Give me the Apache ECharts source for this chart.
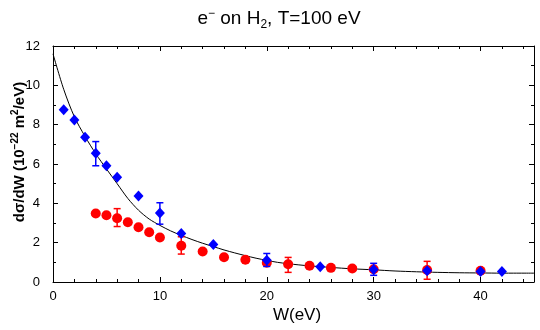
<!DOCTYPE html>
<html><head><meta charset="utf-8">
<script src="https://cdn.jsdelivr.net/npm/echarts@6/dist/echarts.min.js"></script>
<style>html,body{margin:0;padding:0;background:#fff}#c{width:540px;height:330px}</style>
</head><body><div id="c"></div>
<script>
// ---- data ----
const blueW = [1, 2, 3, 4, 5, 6, 8, 10, 12, 15, 20, 25, 30, 35, 40, 42];
const blueV = [8.76, 8.24, 7.36, 6.55, 5.91, 5.32, 4.37, 3.51, 2.46, 1.91, 1.11, 0.78, 0.64, 0.57, 0.54, 0.54];
const redW = [4, 5, 6, 7, 8, 9, 10, 12, 14, 16, 18, 20, 22, 24, 26, 28, 30, 35, 40];
const redV = [3.48, 3.39, 3.24, 3.04, 2.78, 2.53, 2.26, 1.84, 1.55, 1.26, 1.13, 0.98, 0.90, 0.83, 0.72, 0.69, 0.65, 0.61, 0.57];
const blueErrW = [4, 10, 20, 30];
const blueErrLo = [5.91, 2.94, 0.79, 0.34];
const blueErrHi = [7.14, 4.03, 1.45, 0.95];
const redErrW = [6, 12, 22, 35];
const redErrLo = [2.82, 1.42, 0.49, 0.14];
const redErrHi = [3.73, 2.30, 1.25, 1.05];
const curveW = [0, 1, 2, 3, 4, 5, 6, 7, 8, 9, 10, 11, 12, 13, 14, 15, 16, 17, 18, 19, 20, 21, 22, 23, 24, 25, 26, 28, 30, 32, 34, 36, 38, 40, 42, 45];
const curveV = [11.6, 9.8, 8.4, 7.4, 6.52, 5.75, 5.0, 4.25, 3.65, 3.2, 2.88, 2.6, 2.37, 2.16, 1.97, 1.8, 1.63, 1.48, 1.34, 1.21, 1.1, 1.0, 0.93, 0.87, 0.82, 0.78, 0.74, 0.67, 0.62, 0.56, 0.52, 0.49, 0.47, 0.46, 0.45, 0.45];
const xTickLabels = [0, 10, 20, 30, 40];
const yTickLabels = [0, 2, 4, 6, 8, 10, 12];
const titleText = '{n|e}{sup|−}{n| on H}{sub|2}{n|, T=100 eV}';
const yNameText = '{n|dσ/dW (10}{sup|−22}{n| m}{sup|2}{n|/eV)}';
const xNameText = 'W(eV)';

const FONT = 'Liberation Sans, Arial, Helvetica, sans-serif';
const chart = echarts.init(document.getElementById('c'), null, {renderer: 'canvas'});

function axisCommon(pos, showLabel, isX) {
  return {
    type: 'value', position: pos,
    min: 0, max: isX ? 45 : 12, interval: isX ? 10 : 2,
    axisLine: {show: true, onZero: false, lineStyle: {color: '#000', width: 1}},
    axisTick: {show: true, inside: true, length: 5, lineStyle: {color: '#000', width: 1}},
    minorTick: {show: true, splitNumber: isX ? 5 : 2, length: 3, lineStyle: {color: '#000', width: 1}},
    splitLine: {show: false},
    axisLabel: {
      show: showLabel, color: '#000', fontSize: 13, fontFamily: FONT,
      margin: isX ? 8 : 13,
      formatter: function (v) {
        const arr = isX ? xTickLabels : yTickLabels;
        return arr.indexOf(v) >= 0 ? String(v) : '';
      }
    }
  };
}

function errRender(color) {
  return function (params, api) {
    const x = api.value(0);
    const lo = api.coord([x, api.value(1)]);
    const hi = api.coord([x, api.value(2)]);
    const hw = 3.5;
    const st = {stroke: color, lineWidth: 1.5};
    return {type: 'group', children: [
      {type: 'line', shape: {x1: lo[0], y1: lo[1], x2: hi[0], y2: hi[1]}, style: st},
      {type: 'line', shape: {x1: hi[0] - hw, y1: hi[1], x2: hi[0] + hw, y2: hi[1]}, style: st},
      {type: 'line', shape: {x1: lo[0] - hw, y1: lo[1], x2: lo[0] + hw, y2: lo[1]}, style: st}
    ]};
  };
}

chart.setOption({
  animation: false,
  backgroundColor: '#fff',
  grid: {left: 53, right: 6, top: 46, bottom: 48, containLabel: false},
  xAxis: [axisCommon('bottom', true, true), axisCommon('top', false, true)],
  yAxis: [axisCommon('left', true, false), axisCommon('right', false, false)],
  graphic: [
    {type: 'text', x: 279, y: 19, z: 10, style: {
      text: titleText, align: 'center', verticalAlign: 'middle', fill: '#000',
      rich: {
        n: {fontSize: 19, fontFamily: FONT, lineHeight: 23, fill: '#000'},
        sup: {fontSize: 12, fontFamily: FONT, verticalAlign: 'top', lineHeight: 12, fill: '#000'},
        sub: {fontSize: 12, fontFamily: FONT, verticalAlign: 'bottom', lineHeight: 10, fill: '#000'}
      }
    }},
    {type: 'text', x: 20, y: 152, rotation: Math.PI / 2, z: 10, style: {
      text: yNameText, align: 'center', verticalAlign: 'middle', fill: '#000',
      rich: {
        n: {fontSize: 15, fontWeight: 'bold', fontFamily: FONT, lineHeight: 19, fill: '#000'},
        sup: {fontSize: 10, fontWeight: 'bold', fontFamily: FONT, verticalAlign: 'top', lineHeight: 10, fill: '#000'}
      }
    }},
    {type: 'text', x: 297, y: 315, z: 10, style: {
      text: xNameText, align: 'center', verticalAlign: 'middle', fill: '#000',
      fontSize: 17, fontFamily: FONT
    }}
  ],
  series: [
    {type: 'line', data: curveW.map((w, i) => [w, curveV[i]]), showSymbol: false, symbol: 'none',
      smooth: 0.3, lineStyle: {color: '#000', width: 1}, z: 2, silent: true},
    {type: 'custom', data: redErrW.map((w, i) => [w, redErrLo[i], redErrHi[i]]),
      encode: {x: 0, y: [1, 2]}, renderItem: errRender('#ff0000'), z: 3, silent: true},
    {type: 'scatter', data: redW.map((w, i) => [w, redV[i]]), symbol: 'circle', symbolSize: 10,
      itemStyle: {color: '#ff0000', opacity: 1}, z: 4, silent: true},
    {type: 'custom', data: blueErrW.map((w, i) => [w, blueErrLo[i], blueErrHi[i]]),
      encode: {x: 0, y: [1, 2]}, renderItem: errRender('#0000ff'), z: 5, silent: true},
    {type: 'scatter', data: blueW.map((w, i) => [w, blueV[i]]), symbol: 'diamond', symbolSize: [10, 11],
      itemStyle: {color: '#0000ff', opacity: 1}, z: 6, silent: true}
  ]
});
</script>
</body></html>
